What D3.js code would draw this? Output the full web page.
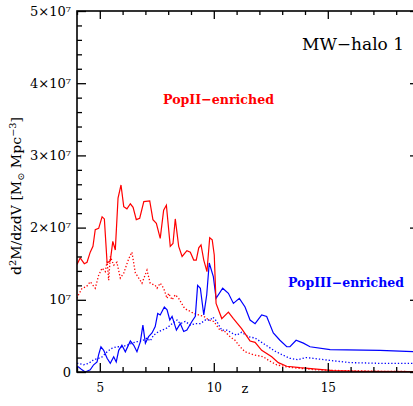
<!DOCTYPE html>
<html>
<head>
<meta charset="utf-8">
<script src="https://cdn.jsdelivr.net/npm/d3@7"></script>
<style>
  body { margin: 0; background: #fff; }
  svg { display: block; }
  text { font-family: "DejaVu Serif", serif; }
</style>
</head>
<body>
<svg id="chart" width="413" height="406"></svg>
<script>
// redshift z, values in units of 1e7 Msun Mpc^-3
var popIIz   = [4.00,4.14,4.32,4.44,4.58,4.70,4.80,4.95,5.10,5.20,5.32,5.46,5.57,5.68,5.80,5.93,6.05,6.19,6.34,6.46,6.60,6.75,6.93,7.19,7.33,7.48,7.65,7.80,7.92,8.09,8.21,8.31,8.46,8.61,8.82,8.97,9.12,9.23,9.34,9.44,9.56,9.70,9.82,9.93,10.02,10.10,10.35,10.64,10.86,11.22,11.59,11.81,12.10,12.54,12.83,13.20,13.78,14.51,15.23,16.41,19.00];
var popIIval = [1.49,1.58,1.50,1.52,1.66,1.74,1.97,1.99,2.15,2.12,1.51,1.54,1.81,1.69,2.41,2.59,2.29,2.26,2.33,2.28,2.11,2.13,2.36,2.37,2.11,2.06,1.85,2.24,2.31,1.74,1.78,2.12,1.74,1.60,1.68,1.66,1.55,1.55,1.72,1.76,1.55,1.39,1.86,1.83,1.62,0.95,0.74,0.83,0.74,0.60,0.43,0.41,0.30,0.21,0.13,0.08,0.06,0.04,0.02,0.01,0.005];

var popIIdotz   = [4.00,4.07,4.22,4.41,4.58,4.80,4.95,5.10,5.24,5.32,5.39,5.46,5.61,5.75,5.90,6.05,6.27,6.41,6.56,6.63,6.85,7.07,7.21,7.43,7.51,7.65,7.80,7.95,8.02,8.17,8.31,8.46,8.68,8.82,8.97,9.12,9.34,9.56,9.78,10.00,10.27,10.49,10.71,10.93,11.15,11.37,11.73,12.17,12.46,12.76,13.20,13.78,14.51,15.54,17.29,19.00];
var popIIdotval = [1.02,1.07,1.16,1.18,1.25,1.16,1.34,1.44,1.39,1.53,1.27,1.60,1.48,1.52,1.30,1.37,1.57,1.66,1.37,1.34,1.23,1.41,1.23,1.20,1.16,1.23,1.16,1.02,1.09,1.00,1.07,1.02,0.90,0.86,0.84,0.81,0.79,0.77,0.72,0.70,0.58,0.56,0.49,0.44,0.35,0.28,0.24,0.21,0.15,0.10,0.07,0.05,0.03,0.02,0.01,0.005];

var popIIIz   = [4.00,4.07,4.22,4.36,4.58,4.73,4.88,4.95,5.05,5.17,5.32,5.46,5.61,5.72,5.83,5.97,6.12,6.34,6.49,6.63,6.78,6.89,7.00,7.14,7.29,7.43,7.54,7.65,7.83,7.95,8.07,8.17,8.36,8.53,8.68,8.82,9.04,9.19,9.29,9.41,9.56,9.69,9.80,9.98,10.10,10.39,10.64,10.86,11.12,11.37,11.59,11.81,12.10,12.32,12.61,12.90,13.20,13.34,13.61,13.93,14.22,15.10,17.29,19.00];
var popIIIval = [0.08,0.07,0.03,0.00,0.03,0.10,0.14,0.24,0.35,0.30,0.19,0.12,0.21,0.14,0.30,0.37,0.28,0.43,0.37,0.28,0.42,0.65,0.40,0.49,0.54,0.63,0.81,0.79,0.90,0.86,0.72,0.77,0.58,0.67,0.56,0.58,0.70,0.77,1.20,1.16,0.79,1.07,1.51,1.32,1.02,1.16,1.09,0.95,1.02,0.90,0.72,0.67,0.79,0.77,0.54,0.44,0.35,0.35,0.44,0.40,0.35,0.31,0.30,0.28];

var popIIIdotz   = [4.00,4.07,4.29,4.51,4.73,4.95,5.10,5.32,5.54,5.75,5.97,6.19,6.41,6.63,6.85,7.07,7.21,7.36,7.58,7.73,7.95,8.17,8.39,8.53,8.75,8.97,9.19,9.41,9.63,9.85,9.96,10.13,10.35,10.57,10.79,11.00,11.22,11.51,11.81,12.10,12.39,12.68,12.99,13.34,13.69,14.04,14.35,15.10,15.97,17.29,19.00];
var popIIIdotval = [0.12,0.12,0.10,0.12,0.17,0.19,0.21,0.28,0.33,0.35,0.35,0.37,0.40,0.42,0.43,0.47,0.43,0.51,0.56,0.58,0.61,0.67,0.72,0.67,0.70,0.65,0.67,0.67,0.72,0.72,0.76,0.70,0.58,0.58,0.54,0.51,0.55,0.49,0.47,0.41,0.35,0.29,0.24,0.19,0.17,0.20,0.19,0.16,0.13,0.12,0.12];

var xMajor = [5, 10, 15];
var xMajorLabels = ["5", "10", "15"];
var yMajor = [0, 1, 2, 3, 4, 5];
var yMajorLabels = ["0", "10\u2077", "2\u00d710\u2077", "3\u00d710\u2077", "4\u00d710\u2077", "5\u00d710\u2077"];

var RED = "#ff0000";
var BLUE = "#0000ff";

var svg = d3.select("#chart");
var LEFT = 77, RIGHT = 419, TOP = 11, BOTTOM = 372;

var x = d3.scaleLinear().domain([4, 19]).range([LEFT, RIGHT]);
var y = d3.scaleLinear().domain([0, 5]).range([BOTTOM, TOP]);

var xMinor = d3.range(4, 20, 1).filter(function(v) { return v % 5 !== 0; });
var yMinor = d3.range(0, 5.01, 0.2).filter(function(v) { return Math.abs(v - Math.round(v)) > 0.01; });

svg.append("clipPath").attr("id", "plotclip")
  .append("rect").attr("x", LEFT).attr("y", TOP).attr("width", RIGHT - LEFT).attr("height", BOTTOM - TOP);

var plot = svg.append("g").attr("clip-path", "url(#plotclip)");

function series(zs, vs) {
  return zs.map(function(z, i) { return [z, vs[i]]; });
}

var line = d3.line().x(function(d) { return x(d[0]); }).y(function(d) { return y(d[1]); });

plot.append("path").datum(series(popIIdotz, popIIdotval))
  .attr("d", line).attr("fill", "none").attr("stroke", RED)
  .attr("stroke-width", 1.3).attr("stroke-dasharray", "1.3,2");
plot.append("path").datum(series(popIIIdotz, popIIIdotval))
  .attr("d", line).attr("fill", "none").attr("stroke", BLUE)
  .attr("stroke-width", 1.3).attr("stroke-dasharray", "1.3,2");
plot.append("path").datum(series(popIIIz, popIIIval))
  .attr("d", line).attr("fill", "none").attr("stroke", BLUE).attr("stroke-width", 1.2);
plot.append("path").datum(series(popIIz, popIIval))
  .attr("d", line).attr("fill", "none").attr("stroke", RED).attr("stroke-width", 1.2);

// axes, ticks pointing inward on all sides
function styleAxis(g) {
  g.select(".domain").remove();
  g.selectAll(".tick line").attr("stroke", "#000").attr("stroke-width", 1.3);
  g.selectAll("text").attr("fill", "#000").style("font-family", "DejaVu Serif, serif");
}

svg.append("g").attr("transform", "translate(0," + BOTTOM + ")")
  .call(d3.axisBottom(x).tickValues(xMajor).tickSize(-9)
    .tickFormat(function(d, i) { return xMajorLabels[i]; }))
  .call(styleAxis).selectAll("text").style("font-size", "12px").attr("dy", "0.71em").attr("y", 11);
svg.append("g").attr("transform", "translate(0," + BOTTOM + ")")
  .call(d3.axisBottom(x).tickValues(xMinor).tickSize(-5).tickFormat("")).call(styleAxis);
svg.append("g").attr("transform", "translate(0," + TOP + ")")
  .call(d3.axisTop(x).tickValues(xMajor).tickSize(-8).tickFormat("")).call(styleAxis);
svg.append("g").attr("transform", "translate(0," + TOP + ")")
  .call(d3.axisTop(x).tickValues(xMinor).tickSize(-4).tickFormat("")).call(styleAxis);

svg.append("g").attr("transform", "translate(" + LEFT + ",0)")
  .call(d3.axisLeft(y).tickValues(yMajor).tickSize(-9).tickPadding(6)
    .tickFormat(function(d, i) { return yMajorLabels[i]; }))
  .call(styleAxis).selectAll("text").style("font-size", "13px");
svg.append("g").attr("transform", "translate(" + LEFT + ",0)")
  .call(d3.axisLeft(y).tickValues(yMinor).tickSize(-5).tickFormat("")).call(styleAxis);
svg.append("g").attr("transform", "translate(" + RIGHT + ",0)")
  .call(d3.axisRight(y).tickValues(yMajor).tickSize(-9).tickFormat("")).call(styleAxis);
svg.append("g").attr("transform", "translate(" + RIGHT + ",0)")
  .call(d3.axisRight(y).tickValues(yMinor).tickSize(-5).tickFormat("")).call(styleAxis);

// frame
svg.append("rect").attr("x", LEFT).attr("y", TOP)
  .attr("width", RIGHT - LEFT).attr("height", BOTTOM - TOP)
  .attr("fill", "none").attr("stroke", "#000").attr("stroke-width", 1.6);

// labels
svg.append("text").attr("x", 245).attr("y", 393).attr("text-anchor", "middle")
  .style("font-size", "13px").text("z");

var yl = svg.append("text").attr("transform", "translate(21,196) rotate(-90)")
  .attr("text-anchor", "middle").style("font-size", "13px")
  .attr("textLength", 158).attr("lengthAdjust", "spacingAndGlyphs");
yl.append("tspan").text("d");
yl.append("tspan").attr("dy", -5).style("font-size", "9px").text("2");
yl.append("tspan").attr("dy", 5).text("M/dzdV [M");
yl.append("tspan").attr("dy", 3).style("font-size", "9px").text("\u2299");
yl.append("tspan").attr("dy", -3).text(" Mpc");
yl.append("tspan").attr("dy", -5).style("font-size", "9px").text("\u22123");
yl.append("tspan").attr("dy", 5).text("]");

svg.append("text").attr("x", 302).attr("y", 50)
  .style("font-size", "17px").attr("textLength", 102).attr("lengthAdjust", "spacingAndGlyphs")
  .text("MW\u2212halo 1");
svg.append("text").attr("x", 163).attr("y", 103.5).attr("fill", RED)
  .style("font-size", "13px").style("font-weight", "bold")
  .attr("textLength", 111).attr("lengthAdjust", "spacingAndGlyphs")
  .text("PopII\u2212enriched");
svg.append("text").attr("x", 288).attr("y", 287).attr("fill", BLUE)
  .style("font-size", "12.5px").style("font-weight", "bold")
  .attr("textLength", 116).attr("lengthAdjust", "spacingAndGlyphs")
  .text("PopIII\u2212enriched");
</script>
</body>
</html>
